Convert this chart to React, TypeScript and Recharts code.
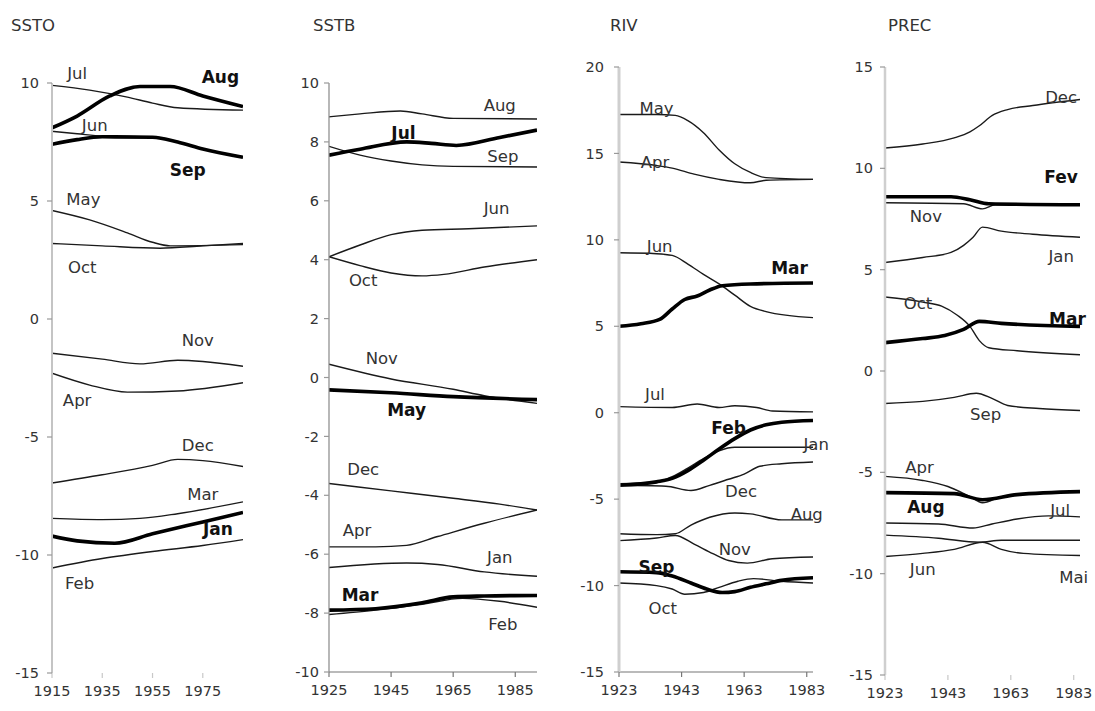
import { LineChart, Line, XAxis, YAxis, ReferenceDot } from 'recharts';

type Pt = [number, number];

// ---- SSTO ----
const sstoYears = [1915, 1935, 1955, 1975];
const sstoYTicks = [-15, -10, -5, 0, 5, 10];
const sstoJul: Pt[] = [[1915, 9.9], [1930, 9.7], [1945, 9.4], [1955, 9.15], [1965, 8.95], [1991, 8.85]];
const sstoAug: Pt[] = [[1915, 8.1], [1925, 8.6], [1938, 9.45], [1950, 9.85], [1962, 9.85], [1975, 9.45], [1991, 9.0]];
const sstoJun: Pt[] = [[1915, 7.95], [1925, 7.85], [1935, 7.75], [1955, 7.72], [1965, 7.5], [1975, 7.2], [1991, 6.88]];
const sstoSep: Pt[] = [[1915, 7.4], [1925, 7.6], [1935, 7.72], [1955, 7.7], [1965, 7.5], [1975, 7.2], [1991, 6.85]];
const sstoMay: Pt[] = [[1915, 4.6], [1930, 4.2], [1945, 3.65], [1955, 3.25], [1962, 3.1], [1991, 3.15]];
const sstoOct: Pt[] = [[1915, 3.2], [1935, 3.1], [1958, 3.0], [1975, 3.1], [1991, 3.2]];
const sstoNov: Pt[] = [[1915, -1.45], [1935, -1.7], [1950, -1.9], [1965, -1.75], [1975, -1.8], [1991, -2.0]];
const sstoApr: Pt[] = [[1915, -2.3], [1930, -2.8], [1945, -3.1], [1965, -3.05], [1991, -2.7]];
const sstoDec: Pt[] = [[1915, -6.95], [1935, -6.6], [1955, -6.2], [1965, -5.95], [1975, -6.0], [1991, -6.25]];
const sstoMar: Pt[] = [[1915, -8.45], [1935, -8.5], [1950, -8.45], [1965, -8.25], [1991, -7.75]];
const sstoJan: Pt[] = [[1915, -9.2], [1925, -9.4], [1940, -9.5], [1955, -9.1], [1975, -8.6], [1991, -8.2]];
const sstoFeb: Pt[] = [[1915, -10.55], [1935, -10.15], [1955, -9.85], [1975, -9.6], [1991, -9.35]];
const sstoBold = ['Aug', 'Sep', 'Jan'];
const sstoLabels: [string, number, number][] = [
  ['Jul', 1925, 10.42], ['Aug', 1982, 10.25], ['Jun', 1932, 8.2], ['Sep', 1969, 6.3],
  ['May', 1927.5, 5.05], ['Oct', 1927, 2.2], ['Nov', 1973, -0.9], ['Apr', 1925, -3.45],
  ['Dec', 1973, -5.35], ['Mar', 1975, -7.45], ['Jan', 1981, -8.9], ['Feb', 1926, -11.2],
];

// ---- SSTB ----
const sstbYears = [1925, 1945, 1965, 1985];
const sstbYTicks = [-10, -8, -6, -4, -2, 0, 2, 4, 6, 8, 10];
const sstbAug: Pt[] = [[1925, 8.85], [1935, 8.95], [1948, 9.05], [1955, 8.95], [1965, 8.8], [1992, 8.78]];
const sstbJul: Pt[] = [[1925, 7.55], [1935, 7.75], [1950, 8.0], [1958, 7.95], [1966, 7.88], [1980, 8.15], [1992, 8.4]];
const sstbSep: Pt[] = [[1925, 7.85], [1935, 7.55], [1945, 7.35], [1955, 7.22], [1965, 7.17], [1992, 7.15]];
const sstbJun: Pt[] = [[1925, 4.1], [1935, 4.5], [1945, 4.85], [1955, 5.0], [1970, 5.05], [1992, 5.15]];
const sstbOct: Pt[] = [[1925, 4.1], [1935, 3.8], [1945, 3.55], [1955, 3.45], [1962, 3.5], [1975, 3.75], [1992, 4.0]];
const sstbNov: Pt[] = [[1925, 0.45], [1945, -0.05], [1965, -0.4], [1975, -0.62], [1992, -0.88]];
const sstbMay: Pt[] = [[1925, -0.42], [1945, -0.52], [1965, -0.65], [1992, -0.75]];
const sstbDec: Pt[] = [[1925, -3.6], [1945, -3.85], [1965, -4.1], [1980, -4.3], [1992, -4.5]];
const sstbApr: Pt[] = [[1925, -5.75], [1940, -5.75], [1950, -5.7], [1960, -5.4], [1975, -4.95], [1992, -4.5]];
const sstbJan: Pt[] = [[1925, -6.45], [1950, -6.3], [1960, -6.35], [1975, -6.6], [1992, -6.75]];
const sstbMar: Pt[] = [[1925, -7.9], [1940, -7.85], [1955, -7.65], [1965, -7.45], [1975, -7.42], [1992, -7.4]];
const sstbFeb: Pt[] = [[1925, -8.05], [1940, -7.9], [1955, -7.7], [1968, -7.5], [1980, -7.6], [1992, -7.8]];
const sstbBold = ['Jul', 'May', 'Mar'];
const sstbLabels: [string, number, number][] = [
  ['Aug', 1980, 9.25], ['Jul', 1949, 8.3], ['Sep', 1981, 7.52], ['Jun', 1979, 5.75],
  ['Oct', 1936, 3.3], ['Nov', 1942, 0.66], ['May', 1950, -1.1], ['Dec', 1936, -3.14],
  ['Apr', 1934, -5.18], ['Jan', 1980, -6.1], ['Mar', 1935, -7.39], ['Feb', 1981, -8.4],
];

// ---- RIV ----
const rivYears = [1923, 1943, 1963, 1983];
const rivYTicks = [-15, -10, -5, 0, 5, 10, 15, 20];
const rivMay: Pt[] = [[1923, 17.25], [1935, 17.25], [1941, 17.2], [1945, 16.9], [1950, 16.2], [1955, 15.2], [1960, 14.4], [1965, 13.9], [1970, 13.6], [1985, 13.5]];
const rivApr: Pt[] = [[1923, 14.5], [1935, 14.3], [1940, 14.15], [1947, 13.8], [1955, 13.5], [1965, 13.3], [1970, 13.45], [1985, 13.5]];
const rivJun: Pt[] = [[1923, 9.25], [1935, 9.2], [1940, 9.1], [1945, 8.6], [1950, 8.0], [1955, 7.45], [1960, 6.8], [1965, 6.15], [1970, 5.85], [1985, 5.5]];
const rivMar: Pt[] = [[1923, 5.0], [1930, 5.15], [1936, 5.4], [1940, 6.0], [1944, 6.55], [1948, 6.75], [1952, 7.1], [1956, 7.35], [1965, 7.45], [1985, 7.5]];
const rivJul: Pt[] = [[1923, 0.35], [1940, 0.3], [1948, 0.5], [1955, 0.3], [1960, 0.4], [1967, 0.3], [1972, 0.1], [1985, 0.05]];
const rivFeb: Pt[] = [[1923, -4.2], [1935, -4.0], [1940, -3.8], [1945, -3.35], [1950, -2.75], [1955, -2.1], [1960, -1.5], [1965, -1.0], [1970, -0.7], [1975, -0.55], [1985, -0.45]];
const rivJan: Pt[] = [[1923, -4.1], [1935, -4.0], [1940, -3.7], [1945, -3.2], [1950, -2.65], [1955, -2.2], [1960, -2.0], [1985, -2.0]];
const rivDec: Pt[] = [[1923, -4.2], [1938, -4.25], [1946, -4.5], [1952, -4.2], [1958, -3.85], [1963, -3.55], [1968, -3.1], [1975, -2.95], [1985, -2.85]];
const rivAug: Pt[] = [[1923, -7.0], [1935, -7.05], [1941, -7.0], [1946, -6.5], [1952, -6.05], [1960, -5.8], [1965, -5.85], [1975, -6.2], [1985, -6.2]];
const rivNov: Pt[] = [[1923, -7.4], [1935, -7.25], [1941, -7.1], [1947, -7.6], [1953, -8.15], [1958, -8.55], [1964, -8.7], [1972, -8.45], [1985, -8.35]];
const rivSep: Pt[] = [[1923, -9.2], [1935, -9.25], [1940, -9.45], [1946, -9.85], [1951, -10.2], [1956, -10.4], [1960, -10.35], [1965, -10.1], [1970, -9.9], [1975, -9.7], [1985, -9.55]];
const rivOct: Pt[] = [[1923, -9.85], [1935, -10.0], [1940, -10.2], [1944, -10.5], [1950, -10.4], [1955, -10.1], [1961, -9.75], [1966, -9.6], [1975, -9.75], [1985, -9.85]];
const rivBold = ['Mar', 'Feb', 'Sep'];
const rivLabels: [string, number, number][] = [
  ['May', 1935, 17.6], ['Apr', 1934.5, 14.5], ['Jun', 1936, 9.6], ['Mar', 1977.5, 8.37],
  ['Jul', 1934.5, 1.03], ['Feb', 1958, -0.88], ['Jan', 1986, -1.86], ['Dec', 1962, -4.58],
  ['Aug', 1983, -5.9], ['Nov', 1960, -7.94], ['Sep', 1935, -8.92], ['Oct', 1937, -11.3],
];

// ---- PREC ----
const precYears = [1923, 1943, 1963, 1983];
const precYTicks = [-15, -10, -5, 0, 5, 10, 15];
const precDec: Pt[] = [[1923, 11.0], [1935, 11.2], [1945, 11.5], [1950, 11.8], [1953, 12.1], [1957, 12.6], [1962, 12.9], [1970, 13.1], [1985, 13.4]];
const precFev: Pt[] = [[1923, 8.6], [1944, 8.6], [1950, 8.45], [1956, 8.25], [1985, 8.2]];
const precNov: Pt[] = [[1923, 8.3], [1948, 8.25], [1954, 8.0], [1958, 8.2], [1985, 8.2]];
const precJan: Pt[] = [[1923, 5.35], [1935, 5.6], [1944, 5.85], [1948, 6.2], [1951, 6.6], [1954, 7.1], [1960, 6.9], [1970, 6.75], [1985, 6.6]];
const precOct: Pt[] = [[1923, 3.65], [1935, 3.4], [1941, 3.2], [1946, 2.75], [1950, 2.2], [1953, 1.5], [1956, 1.15], [1965, 1.0], [1985, 0.8]];
const precMar: Pt[] = [[1923, 1.4], [1935, 1.6], [1942, 1.75], [1948, 2.05], [1953, 2.45], [1960, 2.35], [1985, 2.2]];
const precSep: Pt[] = [[1923, -1.6], [1935, -1.5], [1945, -1.3], [1952, -1.1], [1957, -1.35], [1962, -1.7], [1972, -1.85], [1985, -1.95]];
const precApr: Pt[] = [[1923, -5.2], [1935, -5.4], [1943, -5.7], [1950, -6.2], [1954, -6.5], [1960, -6.2], [1970, -6.05], [1985, -5.95]];
const precAug: Pt[] = [[1923, -6.0], [1945, -6.05], [1954, -6.35], [1965, -6.1], [1985, -5.95]];
const precJul: Pt[] = [[1923, -7.5], [1940, -7.55], [1951, -7.75], [1957, -7.55], [1965, -7.3], [1975, -7.15], [1985, -7.2]];
const precMai: Pt[] = [[1923, -8.1], [1940, -8.25], [1953, -8.45], [1960, -8.35], [1985, -8.35]];
const precJun: Pt[] = [[1923, -9.15], [1935, -9.0], [1945, -8.8], [1954, -8.45], [1960, -8.8], [1967, -9.0], [1985, -9.1]];
const precBold = ['Fev', 'Mar', 'Aug'];
const precLabels: [string, number, number][] = [
  ['Dec', 1979, 13.5], ['Fev', 1979, 9.57], ['Nov', 1936, 7.6], ['Jan', 1979, 5.63],
  ['Oct', 1933.5, 3.35], ['Mar', 1981, 2.55], ['Sep', 1955, -2.17], ['Apr', 1934, -4.78],
  ['Aug', 1936, -6.7], ['Jul', 1978.7, -6.9], ['Jun', 1935, -9.8], ['Mai', 1983, -10.2],
];

const FONT = "'DejaVu Sans', Verdana, sans-serif";

type PanelProps = {
  title: string;
  titleX: number;
  left: number;
  width: number;
  axisX: number;
  endX: number;
  top: number;
  bottom: number;
  xDomain: [number, number];
  xTicks: number[];
  yDomain: [number, number];
  yTicks: number[];
  series: [string, Pt[]][];
  bold: string[];
  labels: [string, number, number][];
  yAxisColor: string;
  yAxisWidth: number;
  xAxisLine: boolean;
  yTickGap: number;
};

function Panel(p: PanelProps) {
  const H = 711;
  const xAxisH = 30;
  const thin = p.series.filter(([n]) => !p.bold.includes(n));
  const heavy = p.series.filter(([n]) => p.bold.includes(n));
  const toRows = (pts: Pt[]) => pts.map(([year, value]) => ({ year, value }));
  return (
    <div style={{ position: 'absolute', left: p.left, top: 0 }}>
      <LineChart
        width={p.width}
        height={H}
        margin={{ top: p.top, bottom: H - p.bottom - xAxisH, left: 0, right: p.left + p.width - p.endX }}
      >
        <XAxis
          type="number"
          dataKey="year"
          domain={p.xDomain}
          ticks={p.xTicks}
          allowDataOverflow
          height={xAxisH}
          axisLine={p.xAxisLine ? { stroke: '#777', strokeWidth: 1.2 } : false}
          tickLine={{ stroke: p.xAxisLine ? '#777' : '#c8c8c8', strokeWidth: 1.2 }}
          tickSize={5}
          tickMargin={8}
          tick={{ fill: '#333', fontSize: 14.5, fontFamily: FONT }}
        />
        <YAxis
          type="number"
          domain={p.yDomain}
          ticks={p.yTicks}
          allowDataOverflow
          width={p.axisX - p.left}
          axisLine={{ stroke: p.yAxisColor, strokeWidth: p.yAxisWidth }}
          tickLine={{ stroke: '#999', strokeWidth: 1.2 }}
          tickSize={5}
          tickMargin={p.yTickGap}
          tick={{ fill: '#333', fontSize: 14.5, fontFamily: FONT }}
        />
        {thin.map(([name, pts]) => (
          <Line
            key={name}
            data={toRows(pts)}
            dataKey="value"
            type="monotone"
            stroke="#1a1a1a"
            strokeWidth={1.4}
            dot={false}
            isAnimationActive={false}
          />
        ))}
        {heavy.map(([name, pts]) => (
          <Line
            key={name}
            data={toRows(pts)}
            dataKey="value"
            type="monotone"
            stroke="#000"
            strokeWidth={3.6}
            dot={false}
            isAnimationActive={false}
          />
        ))}
        {p.labels.map(([text, year, value]) => (
          <ReferenceDot
            key={text}
            x={year}
            y={value}
            r={0}
            ifOverflow="visible"
            shape={(s: any) => (
              <text
                x={s.cx}
                y={s.cy}
                textAnchor="middle"
                dominantBaseline="central"
                fontFamily={FONT}
                fontSize={p.bold.includes(text) ? 17 : 16.5}
                fontWeight={p.bold.includes(text) ? 'bold' : 'normal'}
                fill={p.bold.includes(text) ? '#111' : '#333'}
              >
                {text}
              </text>
            )}
          />
        ))}
      </LineChart>
      <div
        style={{
          position: 'absolute',
          left: p.titleX - p.left,
          top: 17,
          fontFamily: FONT,
          fontSize: 16.5,
          color: '#333',
          lineHeight: '18px',
          whiteSpace: 'nowrap',
        }}
      >
        {p.title}
      </div>
    </div>
  );
}

export default function App() {
  return (
    <div style={{ position: 'absolute', left: 0, top: 0, width: 1095, height: 711, background: '#fff', overflow: 'hidden' }}>
      <Panel
        title="SSTO" titleX={11} left={0} width={270} axisX={52} endX={243} top={83} bottom={673}
        xDomain={[1915, 1991]} xTicks={sstoYears} yDomain={[-15, 10]} yTicks={sstoYTicks}
        series={[['Jul', sstoJul], ['Jun', sstoJun], ['May', sstoMay], ['Oct', sstoOct], ['Nov', sstoNov], ['Apr', sstoApr], ['Dec', sstoDec], ['Mar', sstoMar], ['Feb', sstoFeb], ['Aug', sstoAug], ['Sep', sstoSep], ['Jan', sstoJan]]}
        bold={sstoBold} labels={sstoLabels} yAxisColor="#c4c4c4" yAxisWidth={2} xAxisLine={false} yTickGap={8}
      />
      <Panel
        title="SSTB" titleX={313} left={270} width={290} axisX={329} endX={537} top={83} bottom={672}
        xDomain={[1925, 1992]} xTicks={sstbYears} yDomain={[-10, 10]} yTicks={sstbYTicks}
        series={[['Aug', sstbAug], ['Sep', sstbSep], ['Jun', sstbJun], ['Oct', sstbOct], ['Nov', sstbNov], ['Dec', sstbDec], ['Apr', sstbApr], ['Jan', sstbJan], ['Feb', sstbFeb], ['Jul', sstbJul], ['May', sstbMay], ['Mar', sstbMar]]}
        bold={sstbBold} labels={sstbLabels} yAxisColor="#888" yAxisWidth={1.2} xAxisLine={true} yTickGap={5}
      />
      <Panel
        title="RIV" titleX={610} left={560} width={280} axisX={619} endX={813} top={67} bottom={672}
        xDomain={[1923, 1985]} xTicks={rivYears} yDomain={[-15, 20]} yTicks={rivYTicks}
        series={[['May', rivMay], ['Apr', rivApr], ['Jun', rivJun], ['Jul', rivJul], ['Jan', rivJan], ['Dec', rivDec], ['Aug', rivAug], ['Nov', rivNov], ['Oct', rivOct], ['Mar', rivMar], ['Feb', rivFeb], ['Sep', rivSep]]}
        bold={rivBold} labels={rivLabels} yAxisColor="#cfcfcf" yAxisWidth={3} xAxisLine={true} yTickGap={10}
      />
      <Panel
        title="PREC" titleX={888} left={840} width={255} axisX={885} endX={1080} top={67} bottom={675}
        xDomain={[1923, 1985]} xTicks={precYears} yDomain={[-15, 15]} yTicks={precYTicks}
        series={[['Dec', precDec], ['Nov', precNov], ['Jan', precJan], ['Oct', precOct], ['Sep', precSep], ['Apr', precApr], ['Jul', precJul], ['Mai', precMai], ['Jun', precJun], ['Fev', precFev], ['Mar', precMar], ['Aug', precAug]]}
        bold={precBold} labels={precLabels} yAxisColor="#cfcfcf" yAxisWidth={2.5} xAxisLine={false} yTickGap={7}
      />
    </div>
  );
}
